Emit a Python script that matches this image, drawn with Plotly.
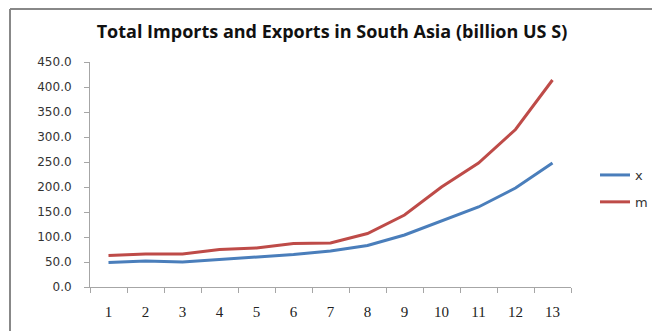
import plotly.graph_objects as go

categories = ["1", "2", "3", "4", "5", "6", "7", "8", "9", "10", "11", "12", "13"]
exports_x = [49, 52, 50, 55, 60, 65, 72, 83, 104, 132, 160, 198, 248]
imports_m = [63, 66, 66, 75, 78, 87, 88, 107, 144, 200, 248, 315, 414]
y_ticks = [0, 50, 100, 150, 200, 250, 300, 350, 400, 450]
y_tick_labels = [f"{v:.1f}" for v in y_ticks]

# The page body adds an 8px offset; compensate so the picture lines up.
OFF = 8
W, H = 660 - OFF, 331 - OFF
L, R, T, B = 90 - OFF, 89, 62 - OFF, 44
pw = W - L - R
ph = H - T - B

def px_x(p):
    return (p - OFF - L) / pw

def px_y(p):
    return (H - B - (p - OFF)) / ph

fig = go.Figure()
fig.add_trace(go.Scatter(x=categories, y=exports_x, mode="lines", name="x",
                         line=dict(color="#4a7ebb", width=3), legendgroup="a"))
fig.add_trace(go.Scatter(x=categories, y=imports_m, mode="lines", name="m",
                         line=dict(color="#be4b48", width=3), legendgroup="b"))

fig.update_layout(
    width=W, height=H,
    margin=dict(l=L, r=R, t=T, b=B, autoexpand=False),
    paper_bgcolor="white", plot_bgcolor="white",
    title=dict(text="<b>Total Imports and Exports in South Asia (billion US S)</b>",
               x=px_x(329), xanchor="center", y=1 - (32 - OFF) / H, yanchor="middle",
               font=dict(family="Open Sans", size=18, color="#111")),
    xaxis=dict(type="category", tickson="boundaries", ticks="outside", ticklen=5,
               tickcolor="#a6a6a6", showline=True, linecolor="#a6a6a6", linewidth=1,
               showgrid=False, zeroline=False, ticklabelstandoff=11,
               tickfont=dict(family="Liberation Serif", size=15, color="#222"),
               range=[-0.5, 12.5]),
    yaxis=dict(range=[0, 450], tickvals=y_ticks, ticktext=y_tick_labels,
               ticks="outside", ticklen=5, tickcolor="#a6a6a6", showline=True,
               linecolor="#a6a6a6", linewidth=1, showgrid=False, zeroline=False,
               ticklabelstandoff=10,
               tickfont=dict(family="DejaVu Sans", size=12, color="#333")),
    legend=dict(x=px_x(595), xanchor="left", y=px_y(160), yanchor="top",
                font=dict(family="DejaVu Sans", size=13, color="#333"),
                tracegroupgap=7, bgcolor="rgba(0,0,0,0)"),
    showlegend=True,
    shapes=[
        dict(type="line", xref="paper", yref="paper", x0=px_x(10), x1=px_x(700),
             y0=px_y(9), y1=px_y(9), line=dict(color="#888888", width=2)),
        dict(type="line", xref="paper", yref="paper", x0=px_x(10), x1=px_x(10),
             y0=px_y(9), y1=px_y(400), line=dict(color="#888888", width=2)),
    ],
)

fig.write_html("out.html")
